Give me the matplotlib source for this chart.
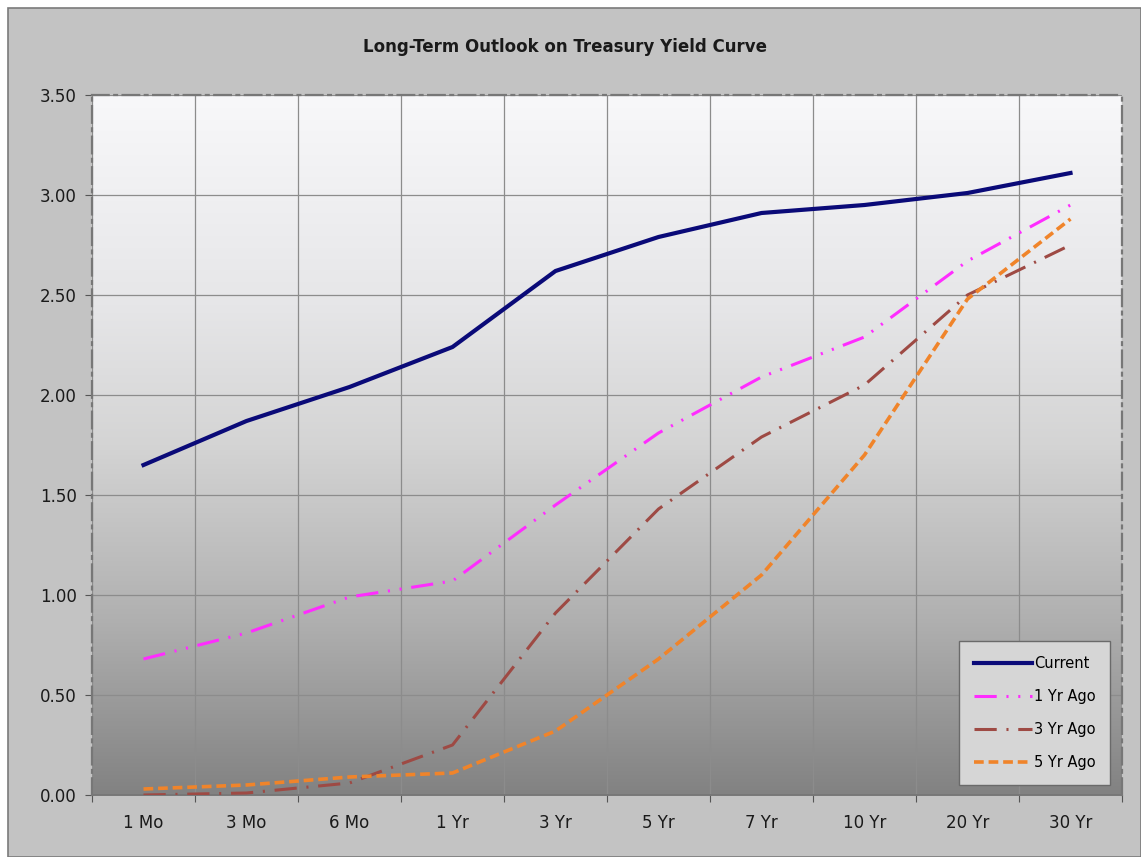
import numpy as np
import matplotlib.pyplot as plt
from matplotlib.patches import Rectangle
from matplotlib.colors import LinearSegmentedColormap

maturities = ["1 Mo", "3 Mo", "6 Mo", "1 Yr", "3 Yr", "5 Yr", "7 Yr", "10 Yr", "20 Yr", "30 Yr"]
current = [1.65, 1.87, 2.04, 2.24, 2.62, 2.79, 2.91, 2.95, 3.01, 3.11]
yr1_ago = [0.68, 0.81, 0.99, 1.07, 1.45, 1.81, 2.09, 2.29, 2.67, 2.95]
yr3_ago = [0.00, 0.01, 0.06, 0.25, 0.91, 1.43, 1.79, 2.05, 2.50, 2.75]
yr5_ago = [0.03, 0.05, 0.09, 0.11, 0.32, 0.68, 1.10, 1.70, 2.48, 2.88]
yticks = [0.0, 0.5, 1.0, 1.5, 2.0, 2.5, 3.0, 3.5]

plt.rcParams["lines.scale_dashes"] = False

W, H = 1141, 857
fig = plt.figure(figsize=(W / 100, H / 100), dpi=100, facecolor="white")
fig.patches.append(Rectangle((8 / W, 0), 1 - 8 / W, 1 - 8 / H, transform=fig.transFigure,
                             facecolor="#c3c3c3", edgecolor="#7a7a7a", lw=1.2, zorder=-10))

ax = fig.add_axes([92 / W, 1 - 795 / H, (1122 - 92) / W, (795 - 95) / H])
ax.set_facecolor("none")

# vertical gradient in plot area
grad = np.linspace(0, 1, 256).reshape(-1, 1)
cmap = LinearSegmentedColormap.from_list("g", [(0, "#f8f8fa"), (0.3, "#e6e6e8"), (0.5, "#d4d4d4"),
                                               (0.75, "#b0b0b0"), (1, "#828282")])
ax.imshow(grad, cmap=cmap, extent=[-0.5, 9.5, 0, 3.5], aspect="auto", origin="upper", zorder=0)

x = np.arange(len(maturities))
ax.plot(x, current, color="#0a0a78", lw=3, solid_joinstyle="round", label="Current", zorder=5)
ax.plot(x, yr1_ago, color="#ff2cff", lw=2.2, dashes=[16, 7, 1.5, 7, 1.5, 7], label="1 Yr Ago", zorder=4)
ax.plot(x, yr3_ago, color="#9e4a44", lw=2.2, dashes=[16, 7, 1.5, 7], label="3 Yr Ago", zorder=3)
ax.plot(x, yr5_ago, color="#f0842a", lw=2.6, dashes=[7, 3.5], label="5 Yr Ago", zorder=4)

ax.set_xlim(-0.5, 9.5)
ax.set_ylim(0, 3.5)
ax.set_yticks(yticks)
ax.set_yticklabels([f"{v:.2f}" for v in yticks], fontsize=12, color="#1a1a1a")
ax.set_xticks(np.arange(-0.5, 10, 1))
ax.set_xticklabels([])
ax.set_xticks(x, minor=True)
ax.set_xticklabels(maturities, minor=True, fontsize=12, color="#1a1a1a")
ax.tick_params(axis="x", which="minor", length=0, pad=14)
ax.tick_params(axis="x", which="major", length=5, color="#555555", direction="out")
ax.tick_params(axis="y", length=5, color="#555555", pad=6)

ax.grid(True, which="major", color="#8c8c8c", lw=0.9, zorder=1)

for side in ["top", "left", "right"]:
    ax.spines[side].set_linestyle((0, (12, 4, 2, 4)))
    ax.spines[side].set_color("#777777")
    ax.spines[side].set_linewidth(1.6)
    ax.spines[side].set_zorder(6)
ax.spines["bottom"].set_color("#777777")
ax.spines["bottom"].set_linewidth(1.4)

fig.text(565 / W, 1 - 47 / H, "Long-Term Outlook on Treasury Yield Curve", ha="center", va="center",
         fontsize=12, fontweight="bold", color="#1a1a1a")

leg = ax.legend(loc="lower right", bbox_to_anchor=(1110 / W, 1 - 785 / H), bbox_transform=fig.transFigure,
                fontsize=10.5, frameon=True, fancybox=False, framealpha=1, handlelength=4.0,
                labelspacing=1.25, borderpad=1.0, handletextpad=0.1, borderaxespad=0)
leg.get_frame().set_facecolor("#d6d6d6")
leg.get_frame().set_edgecolor("#6a6a6a")
leg.get_frame().set_linewidth(1.0)

fig.savefig("out.png", dpi=100, facecolor=fig.get_facecolor())
